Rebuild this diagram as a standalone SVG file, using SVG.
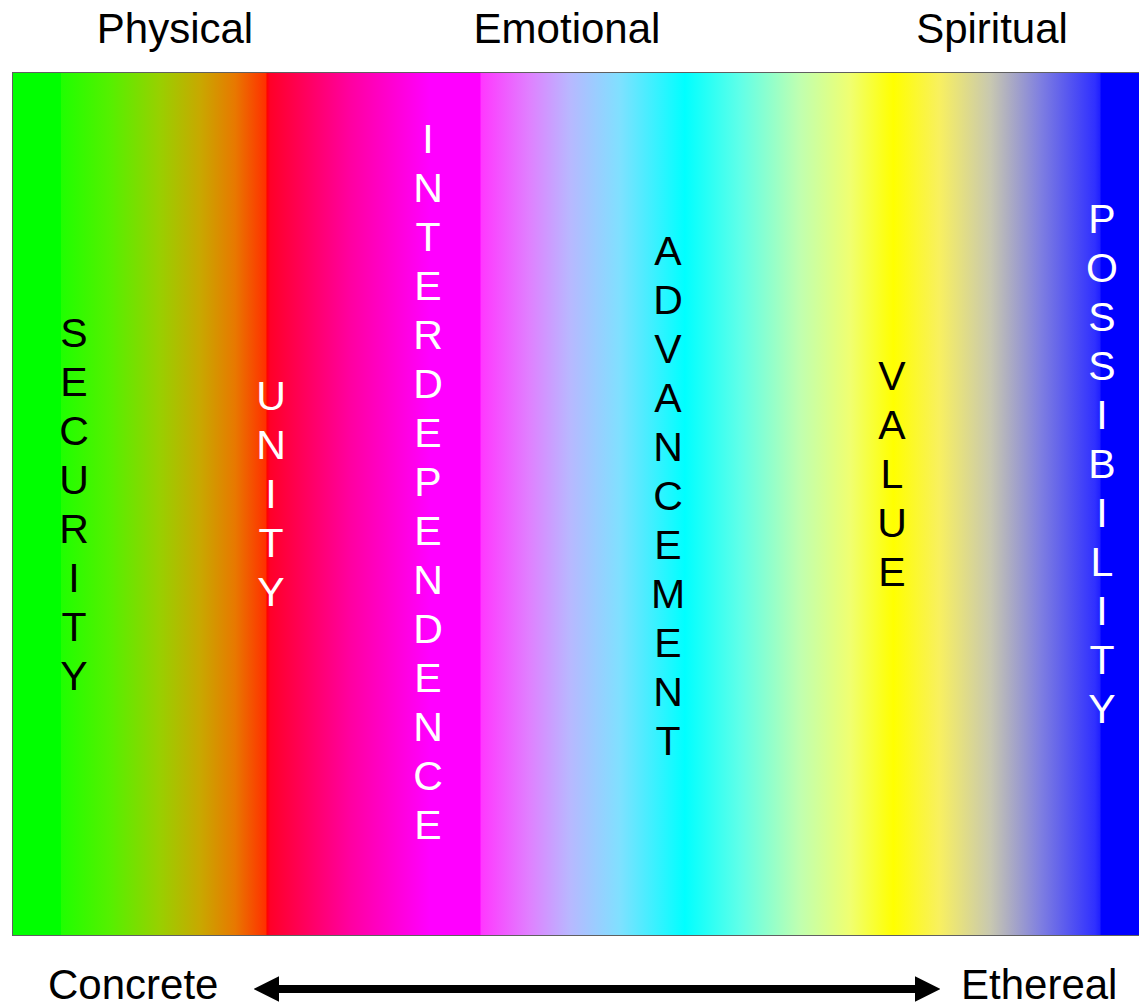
<svg xmlns="http://www.w3.org/2000/svg" width="1139" height="1005" viewBox="0 0 1139 1005">
<defs>
<linearGradient id="spec" gradientUnits="userSpaceOnUse" x1="12" y1="0" x2="1139" y2="0">
<stop offset="0" stop-color="#00ff00"/>
<stop offset="0.0435" stop-color="#00ff00"/>
<stop offset="0.0437" stop-color="#20ff00"/>
<stop offset="0.087" stop-color="#55f000"/>
<stop offset="0.131" stop-color="#98d000"/>
<stop offset="0.167" stop-color="#c8a800"/>
<stop offset="0.198" stop-color="#e87800"/>
<stop offset="0.2254" stop-color="#ff3000"/>
<stop offset="0.2262" stop-color="#ff0000"/>
<stop offset="0.229" stop-color="#ff0028"/>
<stop offset="0.30" stop-color="#ff00a0"/>
<stop offset="0.371" stop-color="#ff00ff"/>
<stop offset="0.415" stop-color="#ff00ff"/>
<stop offset="0.4165" stop-color="#ff38ff"/>
<stop offset="0.459" stop-color="#e080ff"/>
<stop offset="0.495" stop-color="#b8b8ff"/>
<stop offset="0.539" stop-color="#80e0ff"/>
<stop offset="0.597" stop-color="#00ffff"/>
<stop offset="0.646" stop-color="#60ffe8"/>
<stop offset="0.699" stop-color="#c0ffb0"/>
<stop offset="0.744" stop-color="#f0ff70"/>
<stop offset="0.782" stop-color="#ffff00"/>
<stop offset="0.823" stop-color="#f8f060"/>
<stop offset="0.868" stop-color="#c8c8b0"/>
<stop offset="0.912" stop-color="#8080e0"/>
<stop offset="0.961" stop-color="#3030ff"/>
<stop offset="0.9654" stop-color="#2020ff"/>
<stop offset="0.9663" stop-color="#0000ff"/>
<stop offset="1" stop-color="#0000ff"/>
</linearGradient>
<marker id="ah" viewBox="0 0 10 10" refX="0.5" refY="5" markerWidth="3.2" markerHeight="3.4" orient="auto-start-reverse" markerUnits="strokeWidth">
<path d="M0,0 L10,5 L0,10 z" fill="#000"/>
</marker>
<style>
text{font-family:"Liberation Sans",Arial,sans-serif;font-size:41px;}
.v{text-anchor:middle;}
.k{fill:#000;}
.w{fill:#fff;}
.h{text-anchor:middle;fill:#000;font-size:42px;}
.b{font-size:42px;fill:#000;}
</style>
</defs>
<rect id="spectrum" x="12.5" y="72.5" width="1130" height="863" fill="url(#spec)" stroke="#606060" stroke-width="1"/>
<g id="headers">
<text class="h" x="175" y="43">Physical</text>
<text class="h" x="567" y="43">Emotional</text>
<text class="h" x="992" y="43">Spiritual</text>
</g>
<g id="security"><text class="v k" x="74" y="347">S</text><text class="v k" x="74" y="396">E</text><text class="v k" x="74" y="445">C</text><text class="v k" x="74" y="494">U</text><text class="v k" x="74" y="543">R</text><text class="v k" x="74" y="592">I</text><text class="v k" x="74" y="641">T</text><text class="v k" x="74" y="690">Y</text></g>
<g id="unity"><text class="v w" x="271" y="410">U</text><text class="v w" x="271" y="459">N</text><text class="v w" x="271" y="508">I</text><text class="v w" x="271" y="557">T</text><text class="v w" x="271" y="606">Y</text></g>
<g id="interdependence"><text class="v w" x="428" y="153">I</text><text class="v w" x="428" y="202">N</text><text class="v w" x="428" y="251">T</text><text class="v w" x="428" y="300">E</text><text class="v w" x="428" y="349">R</text><text class="v w" x="428" y="398">D</text><text class="v w" x="428" y="447">E</text><text class="v w" x="428" y="496">P</text><text class="v w" x="428" y="545">E</text><text class="v w" x="428" y="594">N</text><text class="v w" x="428" y="643">D</text><text class="v w" x="428" y="692">E</text><text class="v w" x="428" y="741">N</text><text class="v w" x="428" y="790">C</text><text class="v w" x="428" y="839">E</text></g>
<g id="advancement"><text class="v k" x="668" y="265">A</text><text class="v k" x="668" y="314">D</text><text class="v k" x="668" y="363">V</text><text class="v k" x="668" y="412">A</text><text class="v k" x="668" y="461">N</text><text class="v k" x="668" y="510">C</text><text class="v k" x="668" y="559">E</text><text class="v k" x="668" y="608">M</text><text class="v k" x="668" y="657">E</text><text class="v k" x="668" y="706">N</text><text class="v k" x="668" y="755">T</text></g>
<g id="value"><text class="v k" x="892" y="390">V</text><text class="v k" x="892" y="439">A</text><text class="v k" x="892" y="488">L</text><text class="v k" x="892" y="537">U</text><text class="v k" x="892" y="586">E</text></g>
<g id="possibility"><text class="v w" x="1102" y="233">P</text><text class="v w" x="1102" y="282">O</text><text class="v w" x="1102" y="331">S</text><text class="v w" x="1102" y="380">S</text><text class="v w" x="1102" y="429">I</text><text class="v w" x="1102" y="478">B</text><text class="v w" x="1102" y="527">I</text><text class="v w" x="1102" y="576">L</text><text class="v w" x="1102" y="625">I</text><text class="v w" x="1102" y="674">T</text><text class="v w" x="1102" y="723">Y</text></g>
<g id="concrete"><text class="b" x="48" y="999">Concrete</text></g>
<g id="ethereal"><text class="b" x="961" y="999">Ethereal</text></g>
<g id="connectors">
<line x1="278" y1="989" x2="916" y2="989" stroke="#000" stroke-width="8" marker-start="url(#ah)" marker-end="url(#ah)"/>
</g>
</svg>
